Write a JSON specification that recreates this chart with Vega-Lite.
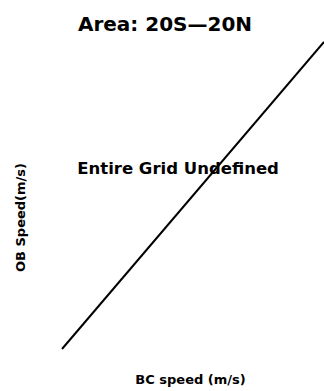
{
  "$schema": "https://vega.github.io/schema/vega-lite/v6.json",
  "autosize": {"type": "none"},
  "padding": {"left": 62, "top": 42, "right": 0, "bottom": 42},
  "width": 262,
  "height": 307,
  "background": "white",
  "config": {"view": {"stroke": null}},
  "title": {
    "text": "Area: 20S—20N",
    "font": "DejaVu Sans",
    "fontSize": 20,
    "fontWeight": "bold",
    "color": "black",
    "anchor": "middle",
    "baseline": "alphabetic",
    "dx": -28,
    "dy": 26,
    "offset": 13
  },
  "datasets": {
    "line": [{"bc": 0, "ob": 0}, {"bc": 1, "ob": 1}],
    "note": [{"bc": 0.443, "ob": 0.585, "label": "Entire Grid Undefined"}]
  },
  "layer": [
    {
      "data": {"name": "line"},
      "mark": {"type": "line", "color": "black", "strokeWidth": 2, "clip": false},
      "encoding": {
        "x": {
          "field": "bc", "type": "quantitative",
          "scale": {"domain": [0, 1], "nice": false, "zero": false},
          "axis": {
            "title": "BC speed (m/s)",
            "labels": false, "ticks": false, "domain": false, "grid": false,
            "titleFont": "DejaVu Sans", "titleFontSize": 13, "titleFontWeight": "bold",
            "titleColor": "black", "titleX": 128, "titleY": 30,
            "titleAlign": "center", "titleBaseline": "middle"
          }
        },
        "y": {
          "field": "ob", "type": "quantitative",
          "scale": {"domain": [0, 1], "nice": false, "zero": false},
          "axis": {
            "title": "OB Speed(m/s)",
            "labels": false, "ticks": false, "domain": false, "grid": false,
            "titleFont": "DejaVu Sans", "titleFontSize": 13, "titleFontWeight": "bold",
            "titleColor": "black", "titleX": -42, "titleY": 175, "titleAngle": -90,
            "titleAlign": "center", "titleBaseline": "middle"
          }
        }
      }
    },
    {
      "data": {"name": "note"},
      "mark": {"type": "text", "font": "DejaVu Sans", "fontSize": 16.5, "fontWeight": "bold", "color": "black", "align": "center", "baseline": "middle"},
      "encoding": {
        "x": {"field": "bc", "type": "quantitative"},
        "y": {"field": "ob", "type": "quantitative"},
        "text": {"field": "label"}
      }
    }
  ]
}
